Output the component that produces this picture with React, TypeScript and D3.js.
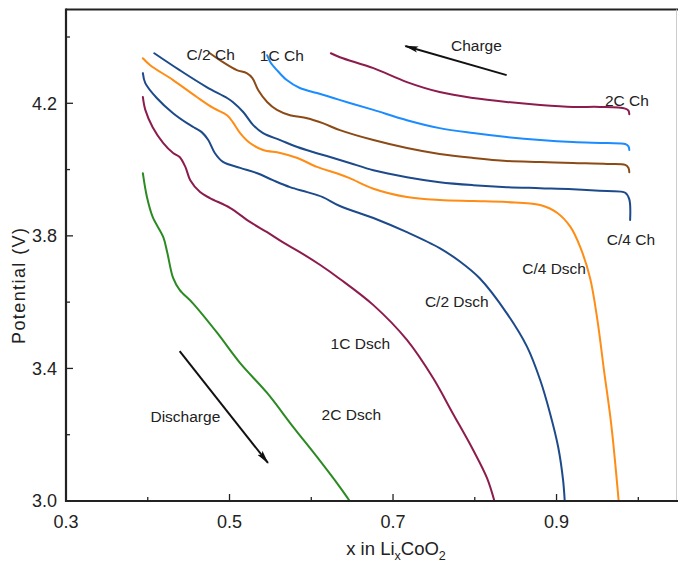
import React from 'react';
import * as d3 from 'd3';

type Pt = [number, number];

const W = 678;
const H = 564;

// Charge curves (x in LixCoO2, potential V)
const ch2C: Pt[] = [
  [0.624, 4.351], [0.635, 4.339], [0.676, 4.306], [0.717, 4.264], [0.757, 4.234],
  [0.798, 4.216], [0.839, 4.204], [0.880, 4.195], [0.920, 4.189], [0.953, 4.189],
  [0.984, 4.184], [0.988, 4.178], [0.989, 4.167],
];
const ch1C: Pt[] = [
  [0.546, 4.345], [0.550, 4.324], [0.558, 4.300], [0.570, 4.270], [0.586, 4.246],
  [0.607, 4.231], [0.627, 4.216], [0.647, 4.201], [0.676, 4.180], [0.717, 4.149],
  [0.757, 4.125], [0.798, 4.110], [0.839, 4.098], [0.880, 4.089], [0.920, 4.083],
  [0.962, 4.080], [0.984, 4.077], [0.988, 4.070], [0.989, 4.059],
];
const chC2: Pt[] = [
  [0.476, 4.351], [0.492, 4.324], [0.509, 4.300], [0.521, 4.291], [0.528, 4.276],
  [0.535, 4.240], [0.546, 4.204], [0.558, 4.180], [0.574, 4.164], [0.595, 4.155],
  [0.614, 4.140], [0.635, 4.119], [0.676, 4.089], [0.717, 4.065], [0.757, 4.047],
  [0.798, 4.035], [0.839, 4.026], [0.880, 4.023], [0.920, 4.020], [0.962, 4.017],
  [0.984, 4.014], [0.988, 4.005], [0.989, 3.992],
];
const chC4: Pt[] = [
  [0.408, 4.351], [0.439, 4.300], [0.472, 4.249], [0.497, 4.216], [0.504, 4.204],
  [0.517, 4.173], [0.529, 4.134], [0.541, 4.110], [0.562, 4.089], [0.583, 4.068],
  [0.602, 4.053], [0.623, 4.038], [0.647, 4.020], [0.676, 3.998], [0.717, 3.977],
  [0.757, 3.962], [0.798, 3.953], [0.839, 3.947], [0.880, 3.944], [0.920, 3.941],
  [0.962, 3.935], [0.984, 3.930], [0.989, 3.910], [0.990, 3.848],
];

// Discharge curves
const dschC4: Pt[] = [
  [0.394, 4.336], [0.403, 4.315], [0.431, 4.270], [0.460, 4.219], [0.480, 4.186],
  [0.497, 4.164], [0.504, 4.143], [0.513, 4.110], [0.525, 4.080], [0.541, 4.059],
  [0.562, 4.050], [0.583, 4.035], [0.607, 4.008], [0.631, 3.989], [0.647, 3.974],
  [0.676, 3.942], [0.717, 3.917], [0.757, 3.908], [0.798, 3.905], [0.839, 3.902],
  [0.880, 3.893], [0.901, 3.869], [0.917, 3.827], [0.929, 3.766], [0.941, 3.673],
  [0.950, 3.546], [0.958, 3.395], [0.967, 3.229], [0.976, 3.000],
];
const dschC2: Pt[] = [
  [0.394, 4.291], [0.397, 4.261], [0.411, 4.216], [0.431, 4.170], [0.448, 4.140],
  [0.458, 4.125], [0.466, 4.113], [0.474, 4.089], [0.482, 4.050], [0.492, 4.023],
  [0.513, 4.005], [0.534, 3.989], [0.553, 3.968], [0.574, 3.947], [0.595, 3.932],
  [0.614, 3.917], [0.635, 3.890], [0.676, 3.854], [0.717, 3.811], [0.757, 3.763],
  [0.781, 3.724], [0.806, 3.672], [0.839, 3.567], [0.864, 3.465], [0.880, 3.365],
  [0.892, 3.265], [0.902, 3.163], [0.908, 3.063], [0.910, 3.000],
];
const dsch1C: Pt[] = [
  [0.394, 4.219], [0.397, 4.180], [0.406, 4.128], [0.419, 4.080], [0.431, 4.050],
  [0.439, 4.038], [0.446, 4.008], [0.452, 3.968], [0.464, 3.932], [0.476, 3.914],
  [0.501, 3.884], [0.525, 3.842], [0.546, 3.811], [0.565, 3.781], [0.586, 3.751],
  [0.611, 3.712], [0.635, 3.670], [0.676, 3.591], [0.717, 3.486], [0.749, 3.371],
  [0.773, 3.265], [0.798, 3.154], [0.815, 3.069], [0.824, 3.000],
];
const dsch2C: Pt[] = [
  [0.394, 3.989], [0.399, 3.917], [0.406, 3.857], [0.419, 3.796], [0.424, 3.748],
  [0.431, 3.673], [0.439, 3.637], [0.455, 3.597], [0.485, 3.507], [0.513, 3.416],
  [0.546, 3.326], [0.578, 3.223], [0.607, 3.133], [0.635, 3.042], [0.647, 3.000],
];

const seriesData = [ch2C, ch1C, chC2, chC4, dschC4, dschC2, dsch1C, dsch2C];
const seriesColors = ['#8c1c4e', '#1a8cff', '#8b4a16', '#1d4a8a', '#ff8c14', '#1d4a8a', '#8c1c4e', '#2b8a22'];

// Curve labels: text, x, potential (label centre)
const labelTexts = ['C/2 Ch', '1C Ch', '2C Ch', 'C/4 Ch', 'C/4 Dsch', 'C/2 Dsch', '1C Dsch', '2C Dsch', 'Charge', 'Discharge'];
const labelX = [0.477, 0.564, 0.986, 0.991, 0.897, 0.778, 0.660, 0.649, 0.802, 0.446];
const labelY = [4.348, 4.345, 4.207, 3.790, 3.700, 3.603, 3.474, 3.262, 4.373, 3.256];

// Direction arrows: [from, to]
const arrows: [Pt, Pt][] = [
  [[0.839, 4.285], [0.715, 4.373]],
  [[0.439, 3.452], [0.547, 3.115]],
];

const xMajor = [0.3, 0.5, 0.7, 0.9];
const xMinor = [0.4, 0.6, 0.8, 1.0];
const yMajor = [3.0, 3.4, 3.8, 4.2];
const yMinor = [3.2, 3.6, 4.0, 4.4];

const FONT = '"Liberation Sans", Arial, Helvetica, sans-serif';

export default function App() {
  const x = d3.scaleLinear().domain([0.3, 1.0]).range([66, 638.3]);
  const y = d3.scaleLinear().domain([3.0, 4.4]).range([501, 37]);
  const line = d3
    .line<Pt>()
    .x((d) => x(d[0]))
    .y((d) => y(d[1]))
    .curve(d3.curveCatmullRom.alpha(0.5));
  const fmt = d3.format('.1f');
  const left = x(0.3);
  const bottom = y(3.0);
  const topY = 9.5;

  return (
    <svg
      width={W}
      height={H}
      style={{ position: 'absolute', left: 0, top: 0, background: '#fff' }}
      fontFamily={FONT}
    >
      <defs>
        <marker id="ah" viewBox="0 0 14 8" refX="13" refY="4" markerWidth="14" markerHeight="8" markerUnits="userSpaceOnUse" orient="auto">
          <path d="M0,0.8 L14,4 L0,7.2 L3,4 Z" fill="#111" />
        </marker>
      </defs>
      <rect x={0} y={0} width={W} height={H} fill="#fff" />

      {/* frame */}
      <line x1={left} x2={W} y1={topY} y2={topY} stroke="#222" strokeWidth={2} />
      <line x1={676.5} x2={676.5} y1={topY} y2={bottom} stroke="#ccc" strokeWidth={1} />

      {/* curves */}
      {seriesData.map((pts, i) => (
        <path key={i} d={line(pts) || ''} fill="none" stroke={seriesColors[i]} strokeWidth={2} strokeLinejoin="round" strokeLinecap="round" />
      ))}

      {/* axes */}
      <line x1={left} x2={left} y1={topY - 1} y2={bottom + 1} stroke="#222" strokeWidth={2.2} />
      <line x1={left - 1} x2={W} y1={bottom} y2={bottom} stroke="#222" strokeWidth={2.2} />
      {xMajor.map((v) => (
        <g key={'xM' + v}>
          <line x1={x(v)} x2={x(v)} y1={bottom} y2={bottom - 7} stroke="#222" strokeWidth={1.3} />
          <text x={x(v)} y={528} textAnchor="middle" fontSize={18} fill="#222">{fmt(v)}</text>
        </g>
      ))}
      {xMinor.map((v) => (
        <line key={'xm' + v} x1={x(v)} x2={x(v)} y1={bottom} y2={bottom - 4} stroke="#222" strokeWidth={1.3} />
      ))}
      {yMajor.map((v) => (
        <g key={'yM' + v}>
          <line x1={left} x2={left + 7} y1={y(v)} y2={y(v)} stroke="#222" strokeWidth={1.3} />
          <text x={57} y={y(v)} dy="0.35em" textAnchor="end" fontSize={18} fill="#222">{fmt(v)}</text>
        </g>
      ))}
      {yMinor.map((v) => (
        <line key={'ym' + v} x1={left} x2={left + 4} y1={y(v)} y2={y(v)} stroke="#222" strokeWidth={1.3} />
      ))}

      {/* axis titles */}
      <text transform="translate(25,286) rotate(-90)" textAnchor="middle" fontSize={18} fill="#222" textLength={116} lengthAdjust="spacing">
        Potential (V)
      </text>
      <text x={396} y={555} textAnchor="middle" fontSize={18.5} fill="#222">
        x in Li<tspan fontSize={12.5} dy={5}>x</tspan><tspan dy={-5}>CoO</tspan><tspan fontSize={12.5} dy={5}>2</tspan>
      </text>

      {/* curve labels */}
      {labelTexts.map((t, i) => (
        <text key={t} x={x(labelX[i])} y={y(labelY[i])} dy="0.35em" textAnchor="middle" fontSize={15.5} fill="#222">
          {t}
        </text>
      ))}

      {/* direction arrows */}
      {arrows.map(([a, b], i) => (
        <line key={'ar' + i} x1={x(a[0])} y1={y(a[1])} x2={x(b[0])} y2={y(b[1])} stroke="#111" strokeWidth={2} markerEnd="url(#ah)" />
      ))}
    </svg>
  );
}
